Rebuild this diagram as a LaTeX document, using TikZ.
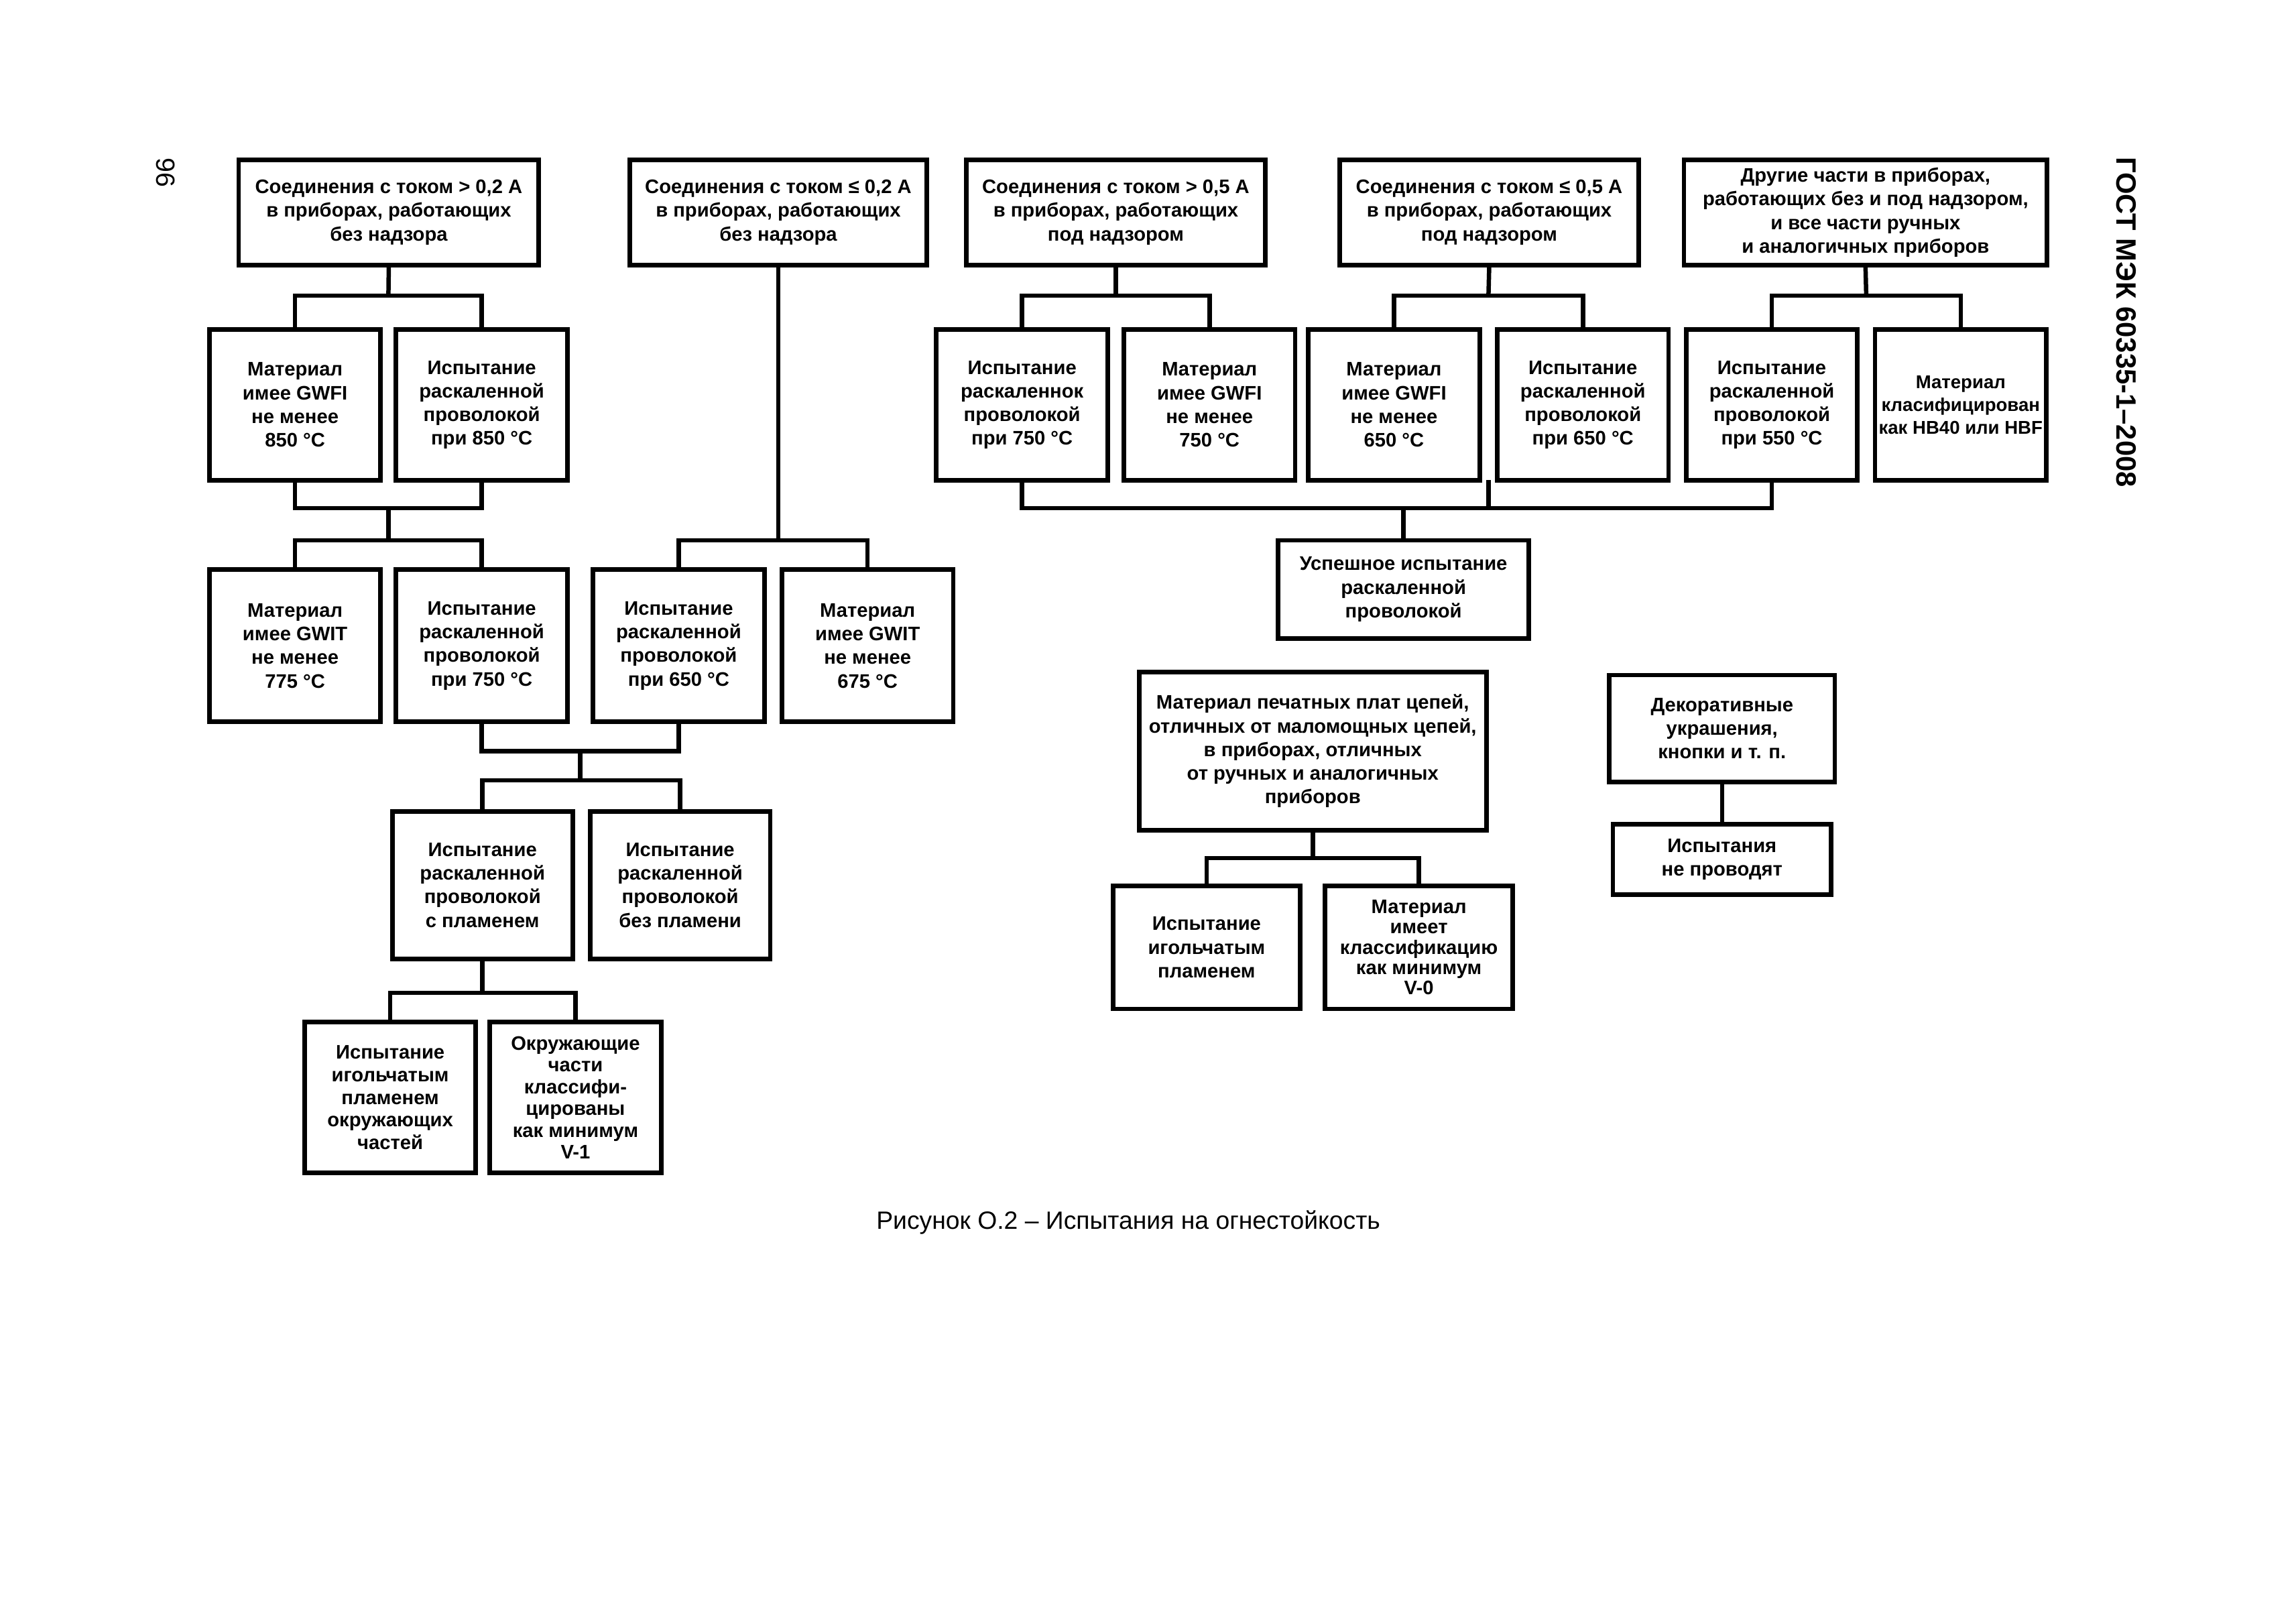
\documentclass[tikz,border=0pt]{standalone}
\usepackage{fontspec}
\setmainfont{Liberation Sans}
\usetikzlibrary{positioning}

\begin{document}
\begin{tikzpicture}[x=0.01894cm, y=-0.01894cm,
    blk/.style n args={2}{draw, line width=1.7pt, minimum width=#1*\px, minimum height=#2*\px,
        align=center, inner sep=1pt, font=\bfseries\fontsize{7.2}{8.7}\selectfont},
    dense/.style={font=\bfseries\fontsize{7.2}{#1}\selectfont},
    link/.style={line width=1.6pt}]
    \def\px{0.01894cm}
    \useasboundingbox (0,0) rectangle (1568,1108);

    % Page number and standard
    \node[rotate=-90, font=\fontsize{9.7}{12}\selectfont] (pg) at (113,118) {96};
    \node[rotate=-90, font=\bfseries\fontsize{10.3}{12}\selectfont] (std) at (1452,220) {ГОСТ МЭК 60335-1–2008};

    % Top row
    \node[blk={205}{72}] (t1) at (265.5,145) {Соединения с током > 0,2 А\\в приборах, работающих\\без надзора};
    \node[blk={203}{72}] (t2) at (531.5,145) {Соединения с током ≤ 0,2 А\\в приборах, работающих\\без надзора};
    \node[blk={204}{72}] (t3) at (762,145) {Соединения с током > 0,5 А\\в приборах, работающих\\под надзором};
    \node[blk={204}{72}] (t4) at (1017,145) {Соединения с током ≤ 0,5 А\\в приборах, работающих\\под надзором};
    \node[blk={248}{72}] (t5) at (1274,145) {Другие части в приборах,\\работающих без и под надзором,\\и все части ручных\\и аналогичных приборов};

    % Second row
    \node[blk={117}{103}] (a1) at (201.5,276.5) {Материал\\имее GWFI\\не менее\\850 °С};
    \node[blk={117}{103}] (a2) at (329,276.5) {Испытание\\раскаленной\\проволокой\\при 850 °С};
    \node[blk={117}{103}] (b1) at (698,276.5) {Испытание\\раскаленнок\\проволокой\\при 750 °С};
    \node[blk={117}{103}] (b2) at (826,276.5) {Материал\\имее GWFI\\не менее\\750 °С};
    \node[blk={117}{103}] (c1) at (952,276.5) {Материал\\имее GWFI\\не менее\\650 °С};
    \node[blk={117}{103}] (c2) at (1081,276.5) {Испытание\\раскаленной\\проволокой\\при 650 °С};
    \node[blk={117}{103}] (d1) at (1210,276.5) {Испытание\\раскаленной\\проволокой\\при 550 °С};
    \node[blk={117}{103}, font=\bfseries\fontsize{6.8}{8.4}\selectfont] (d2) at (1339,276.5) {Материал\\класифицирован\\как HB40 или HBF};

    % Third row
    \node[blk={117}{104}] (e1) at (201.5,441) {Материал\\имее GWIT\\не менее\\775 °С};
    \node[blk={117}{104}] (e2) at (329,441) {Испытание\\раскаленной\\проволокой\\при 750 °С};
    \node[blk={117}{104}] (f1) at (463.5,441) {Испытание\\раскаленной\\проволокой\\при 650 °С};
    \node[blk={117}{104}] (f2) at (592.5,441) {Материал\\имее GWIT\\не менее\\675 °С};
    \node[blk={171}{67}] (ok) at (958.5,402.5) {Успешное испытание\\раскаленной\\проволокой};

    % Glow-wire with and without flame
    \node[blk={123}{101}] (g1) at (329.5,604.5) {Испытание\\раскаленной\\проволокой\\с пламенем};
    \node[blk={123}{101}] (g2) at (464.5,604.5) {Испытание\\раскаленной\\проволокой\\без пламени};
    \node[blk={117}{103}, dense=8.3] (h1) at (266.5,749.5) {Испытание\\игольчатым\\пламенем\\окружающих\\частей};
    \node[blk={117}{103}, dense=8] (h2) at (393,749.5) {Окружающие\\части\\классифи-\\цированы\\как минимум\\V-1};

    % Printed boards
    \node[blk={237}{108}] (pcb) at (896.5,513) {Материал печатных плат цепей,\\отличных от маломощных цепей,\\в приборах, отличных\\от ручных и аналогичных\\приборов};
    \node[blk={128}{84}] (q1) at (824,647) {Испытание\\игольчатым\\пламенем};
    \node[blk={128}{84}, dense=7.5] (q2) at (969,647) {Материал\\имеет\\классификацию\\как минимум\\V-0};

    % Decorative parts
    \node[blk={154}{73}] (dec) at (1176,497.5) {Декоративные\\украшения,\\кнопки и т. п.};
    \node[blk={149}{48}] (none) at (1176,587) {Испытания\\не проводят};

    % Splits under the top row
    \coordinate (s1) at (265.25,202);
    \coordinate (s3) at (762,202);
    \coordinate (s4) at (1016.5,202);
    \coordinate (s5) at (1274.5,202);
    \draw[link] (t1.south) -- (s1);
    \draw[link] (a1.north) |- (s1) -| (a2.north);
    \draw[link] (t3.south) -- (s3);
    \draw[link] (b1.north) |- (s3) -| (b2.north);
    \draw[link] (t4.south) -- (s4);
    \draw[link] (c1.north) |- (s4) -| (c2.north);
    \draw[link] (t5.south) -- (s5);
    \draw[link] (d1.north) |- (s5) -| (d2.north);

    % Left branch
    \coordinate (mL) at (265.25,347);
    \coordinate (sL) at (265.25,369);
    \draw[link] (a1.south) |- (mL) -| (a2.south);
    \draw[link] (mL) -- (sL);
    \draw[link] (e1.north) |- (sL) -| (e2.north);
    \coordinate (sF) at (531.5,369);
    \draw[link] (t2.south) -- (sF);
    \draw[link] (f1.north) |- (sF) -| (f2.north);
    \coordinate (mG) at (396.25,513);
    \coordinate (sG) at (396.25,533);
    \draw[link] (e2.south) |- (mG) -| (f1.south);
    \draw[link] (mG) -- (sG);
    \draw[link] (g1.north) |- (sG) -| (g2.north);
    \coordinate (sH) at (329.5,678);
    \draw[link] (g1.south) -- (sH);
    \draw[link] (h1.north) |- (sH) -| (h2.north);

    % Right branch
    \coordinate (mR) at (958.5,347);
    \coordinate (cj) at (1016.5,328);
    \draw[link] (b1.south) |- (mR) -| (d1.south);
    \draw[link] (cj) -- (cj |- mR);
    \draw[link] (mR) -- (ok.north);
    \coordinate (sQ) at (896.5,586);
    \draw[link] (pcb.south) -- (sQ);
    \draw[link] (q1.north) |- (sQ) -| (q2.north);
    \draw[link] (dec.south) -- (none.north);

    % Caption
    \node[font=\fontsize{9.2}{11}\selectfont] (cap) at (770.5,835) {Рисунок О.2 – Испытания на огнестойкость};
\end{tikzpicture}
\end{document}
